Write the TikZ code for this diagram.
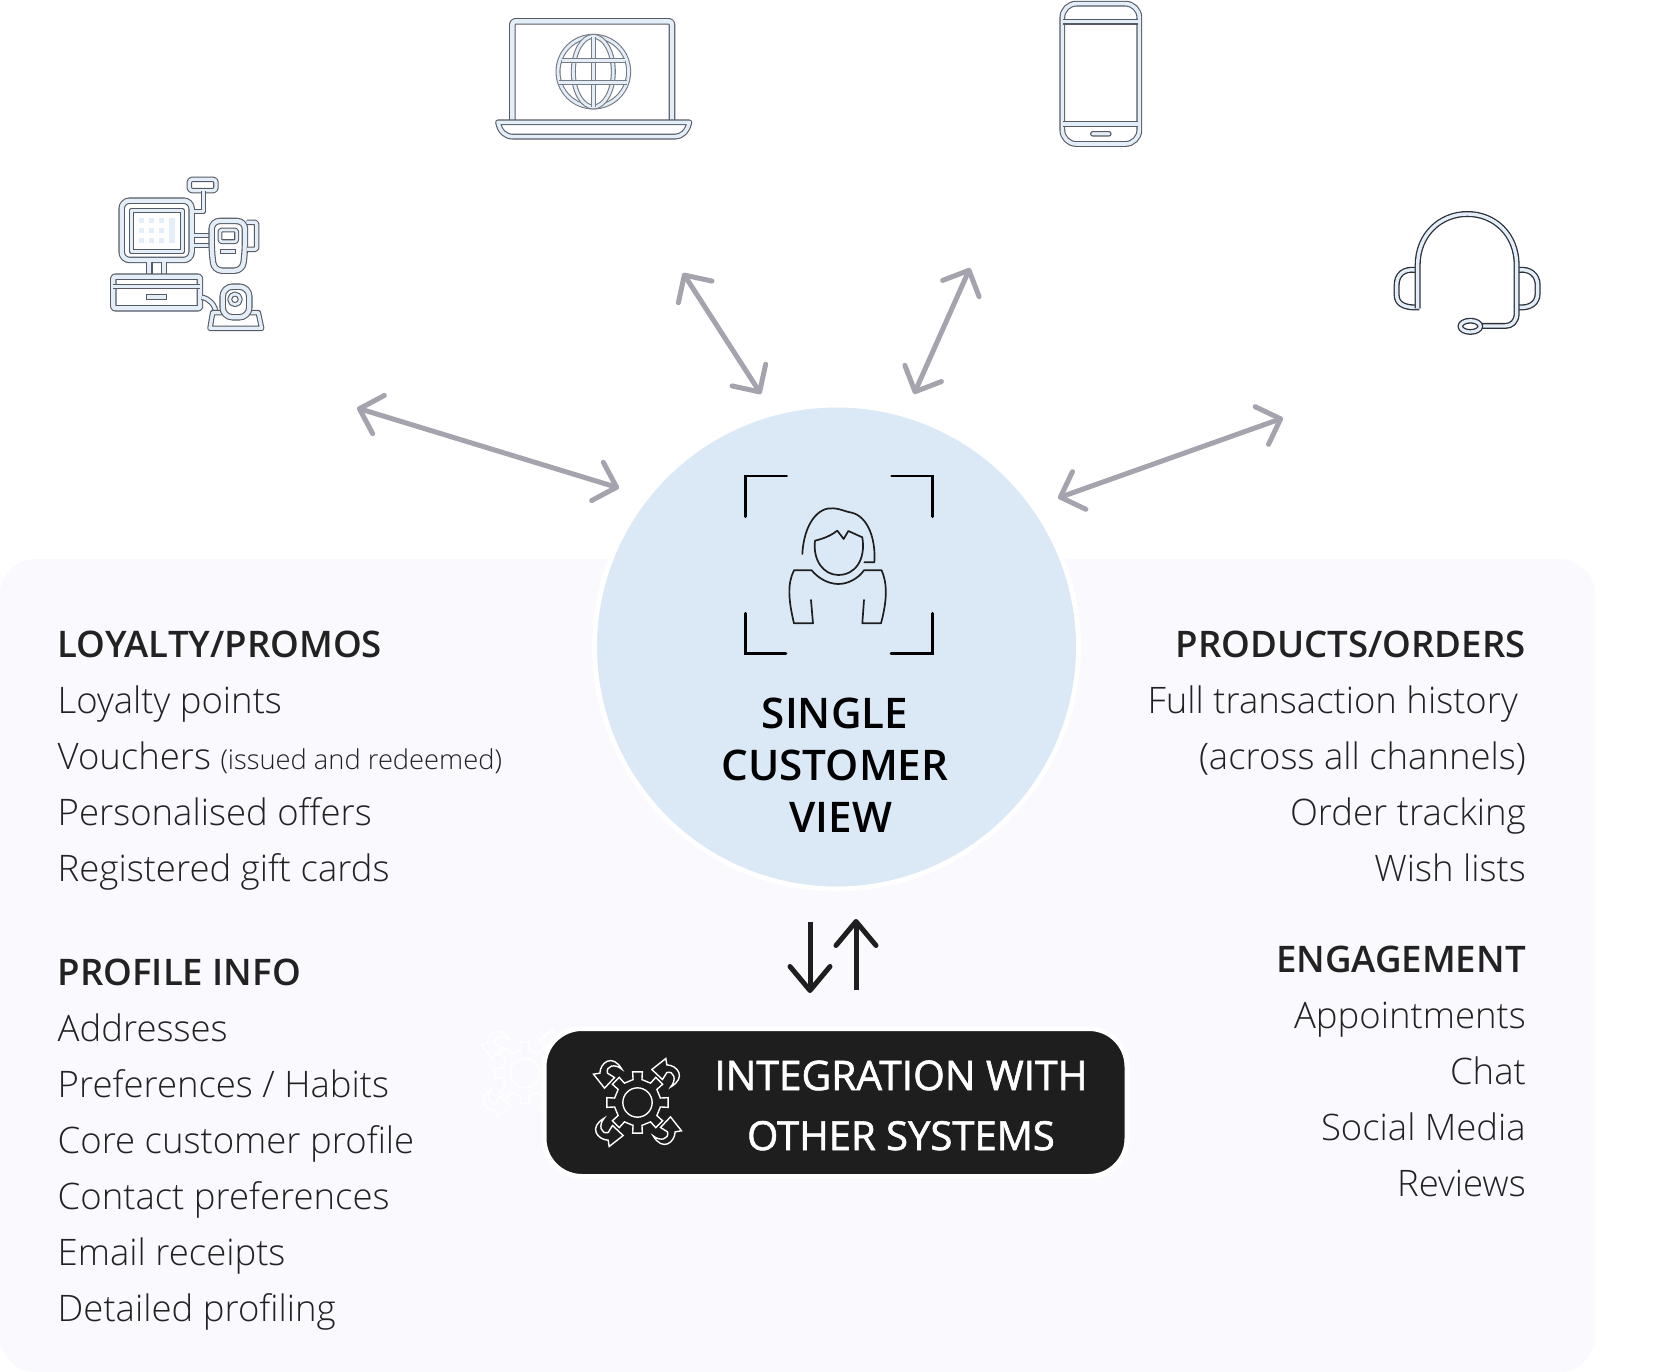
\documentclass[tikz,border=0pt]{standalone}
\usepackage{fontspec}
\setmainfont{Open Sans Light}[BoldFont={Open Sans Semibold}]
\newfontfamily\medfont{Open Sans}[FakeBold=1.5]
\usetikzlibrary{arrows.meta}
\definecolor{panelc}{HTML}{F9F9FE}
\definecolor{circc}{HTML}{DBE8F6}
\definecolor{darkc}{HTML}{1E1E1E}
\definecolor{arrowc}{HTML}{A5A4AE}
\definecolor{iconband}{HTML}{E4EEF8}
\definecolor{iconline}{HTML}{555A64}
\definecolor{iconsoft}{HTML}{767B85}
\definecolor{headsetline}{HTML}{2C323C}
\definecolor{textc}{HTML}{222222}
\tikzset{
  band/.style={draw=iconline,line width=1.1pt,double=iconband,double distance=#1,line join=round},
  band/.default=4.3pt,
  thinband/.style={draw=iconsoft,line width=1.1pt,double=iconband,double distance=2.8pt,line join=round},
  hband/.style={draw=headsetline,line width=1.3pt,double=iconband,double distance=#1,line join=round},
  person/.style={draw=darkc,line width=1.7pt,line join=round,line cap=round},
  bracket/.style={draw=black,line width=2.8pt,line join=miter,line cap=round},
  gearline/.style={draw=#1,line width=1.4pt,line join=miter},
  link/.style={draw=arrowc,line width=5pt,{Straight Barb[round,length=20pt,width=40pt]}-{Straight Barb[round,length=20pt,width=40pt]}},
  flow/.style={draw=darkc,line width=5pt,-{Straight Barb[round,length=24pt,width=40pt]}},
  item/.style={anchor=base west,font=\fontsize{36.5}{36.5}\selectfont,text=textc,inner sep=0pt},
  head/.style={item,font=\fontsize{36.6}{36.6}\selectfont\bfseries},
  ritem/.style={item,anchor=base east},
  rhead/.style={head,anchor=base east},
  title/.style={anchor=base,font=\fontsize{42.2}{42.2}\selectfont\bfseries,text=black,inner sep=0pt},
  boxt/.style={anchor=base,font=\fontsize{40.7}{40.7}\medfont,text=white,inner sep=0pt},
  zoomed/.style={x=0.3333pt,y=-0.3333pt},
}
\newcommand{\gearicon}[1]{%
  \draw[gearline=#1] (-11:70) \foreach \a in {0,45,...,315}{ -- ({\a-11}:70) -- ({\a-9}:93) -- ({\a+9}:93) -- ({\a+11}:70)} -- cycle;
  \draw[gearline=#1] (0,0) circle (44);
  \foreach \r in {0,-90,-180,-270}{
    \draw[gearline=#1,rotate=\r] (-99,-43) -- (-132,-85) -- (-113,-88) .. controls (-112,-120) and (-75,-148) .. (-47,-100) .. controls (-68,-118) and (-96,-110) .. (-90,-88) -- (-69,-75) -- cycle;
  }
}
\begin{document}
\begin{tikzpicture}[x=1pt,y=-1pt]
\useasboundingbox (0,0) rectangle (1654,1372);
\fill[white] (0,0) rectangle (1654,1372);
\fill[panelc,rounded corners=36pt] (0,559) rectangle (1595,1372);

% ghost gear behind the dark box
\begin{scope}[shift={(525,1073)},zoomed]
\gearicon{white}
\end{scope}

% central circle and box
\node[circle,fill=circc,draw=white,line width=5pt,minimum size=484pt,inner sep=0pt] (hub) at (836.5,647) {};
\node[rectangle,rounded corners=38pt,fill=darkc,draw=white,line width=5pt,minimum width=583pt,minimum height=148pt,inner sep=0pt] (intbox) at (835.5,1102.5) {};

% person icon
\begin{scope}[shift={(730,460)},zoomed]
\draw[bracket] (47,170) -- (47,48) -- (170,48);
\draw[bracket] (485,48) -- (607,48) -- (607,170);
\draw[bracket] (47,460) -- (47,580) -- (168,580);
\draw[bracket] (483,580) -- (607,580) -- (607,460);
\draw[person] (217,282) .. controls (222,190) and (265,140) .. (310,145) .. controls (335,147) and (345,155) .. (365,158) .. controls (415,170) and (438,240) .. (433,307) -- (403,307);
\draw[person] (255,242) .. controls (248,300) and (280,345) .. (325,345) .. controls (375,345) and (408,300) .. (397,232) -- (355,213) -- (341,237) -- (322,212) .. controls (305,225) and (285,235) .. (255,242);
\draw[person] (243,420) -- (249,490) -- (192,490) .. controls (175,420) and (172,370) .. (192,331) -- (245,331) .. controls (265,355) and (295,372) .. (325,372) .. controls (355,372) and (385,355) .. (402,331) -- (455,331) .. controls (472,370) and (472,420) .. (453,490) -- (397,490) -- (402,420);
\end{scope}

% POS icon
\begin{scope}[shift={(90,160)},zoomed]
\foreach \x in {155,185,215}\foreach \y in {182,212,242}{\fill[iconband] (\x-7,\y-7) rectangle (\x+7,\y+7);}
\fill[iconband] (238,175) rectangle (255,250);
\draw[band,rounded corners=8pt] (95,122) -- (305,122) -- (305,300) -- (95,300) -- cycle;
\draw[band=3.3pt] (124,152) rectangle (277,275);
\draw[band] (178,305) -- (178,345);
\draw[band] (222,305) -- (222,345);
\draw[band,rounded corners=2pt] (70,350) rectangle (330,445);
\draw[band=3.3pt] (70,380) -- (330,380);
\draw[draw=iconline,line width=1.1pt,fill=iconband] (170,404) rectangle (230,418);
\draw[band=3.3pt,rounded corners=3pt] (298,58) rectangle (378,92);
\draw[band=3.3pt] (340,92) -- (340,155) -- (312,155);
\draw[band=3.3pt] (312,226) -- (360,226);
\draw[band=3.3pt] (312,256) -- (360,256);
\draw[band,rounded corners=8pt] (365,183) -- (465,183) -- (465,270) -- (458,332) -- (372,332) -- (365,270) -- cycle;
\draw[band=2.7pt,rounded corners=2pt] (390,210) rectangle (440,245);
\draw[draw=iconline,line width=1.1pt,fill=iconband] (392,268) rectangle (437,280);
\draw[band=3.3pt,rounded corners=2pt] (470,187) -- (500,187) -- (500,268) -- (470,268);
\draw[band=3.3pt] (335,412) .. controls (358,415) and (375,435) .. (378,458);
\draw[band=3.3pt,line join=round] (398,458) -- (368,458) -- (360,505) -- (515,505) -- (505,458) -- (478,458);
\draw[band,rounded corners=10pt] (398,472) -- (398,380) -- (478,380) -- (478,472) -- cycle;
\draw[band=2.7pt] (435,418) circle (16);
\end{scope}

% laptop icon
\begin{scope}[shift={(480,0)},zoomed]
\draw[band=4.4pt,rounded corners=3pt] (97,360) -- (97,64) -- (576,64) -- (576,360);
\draw[band=3.6pt] (54,367) -- (628,367) .. controls (622,395) and (605,410) .. (585,410) -- (100,410) .. controls (75,410) and (60,395) .. (54,367) -- cycle;
\draw[thinband] (340,215) circle (106);
\draw[thinband] (340,215) ellipse (60 and 106);
\draw[thinband] (340,110) -- (340,320);
\draw[thinband] (245,182) -- (435,182);
\draw[thinband] (238,248) -- (442,248);
\end{scope}

% phone icon
\begin{scope}[shift={(1040,0)},zoomed]
\draw[band=3.6pt,rounded corners=14pt] (67,11) rectangle (298,432);
\draw[band=3.6pt] (70,65) -- (295,65);
\draw[band=3.6pt] (70,372) -- (295,372);
\draw[draw=iconline,line width=1.1pt,fill=iconband,rounded corners=2pt] (152,395) rectangle (213,408);
\end{scope}

% headset icon
\begin{scope}[shift={(1380,200)},zoomed]
\draw[hband=3.4pt] (107,210) .. controls (70,205) and (50,225) .. (50,255) -- (50,285) .. controls (50,310) and (70,325) .. (118,322);
\draw[hband=3.4pt] (415,210) .. controls (450,205) and (473,225) .. (473,255) -- (473,280) .. controls (473,310) and (450,325) .. (415,322);
\draw[hband=3.4pt] (113,325) -- (113,195) .. controls (113,105) and (180,42) .. (262,42) .. controls (345,42) and (410,105) .. (410,195) -- (410,340) .. controls (410,365) and (395,378) .. (375,378) -- (305,378);
\draw[hband=3.2pt] (271,379) ellipse (30 and 17);
\end{scope}

% connector end points
\coordinate (pos) at (357,408);
\coordinate (hubw) at (619,488);
\coordinate (web) at (683,273);
\coordinate (hubn) at (761,394);
\coordinate (mob) at (970,268);
\coordinate (hubne) at (914,394);
\coordinate (call) at (1283,418);
\coordinate (hube) at (1058,498);
\coordinate (hubdn) at (810,922);
\coordinate (boxdn) at (810,993);
\coordinate (boxup) at (856,990);
\coordinate (hubup) at (856,919);
\draw[link] (pos) -- (hubw);
\draw[link] (web) -- (hubn);
\draw[link] (mob) -- (hubne);
\draw[link] (call) -- (hube);
\draw[flow] (hubdn) -- (boxdn);
\draw[flow] (boxup) -- (hubup);

% gear in box
\begin{scope}[shift={(637.5,1102.5)},zoomed]
\gearicon{white}
\end{scope}

% titles
\node[title] (t1) at (835,728) {SINGLE};
\node[title] (t2) at (835,780) {CUSTOMER};
\node[title] (t3) at (841,832) {VIEW};
\node[boxt] (b1) at (901,1090) {INTEGRATION WITH};
\node[boxt,font=\fontsize{40}{40}\medfont] (b2) at (901,1150) {OTHER SYSTEMS};

% left lists
\node[head] (l1) at (57.5,657) {LOYALTY/PROMOS};
\node[item] (l2) at (57.5,713) {Loyalty points};
\node[item] (l3) at (57.5,769) {Vouchers {\fontsize{27.3}{27.3}\selectfont (issued and redeemed)}};
\node[item] (l4) at (57.5,825) {Personalised offers};
\node[item] (l5) at (57.5,881) {Registered gift cards};
\node[head] (p1) at (57.5,985) {PROFILE INFO};
\node[item] (p2) at (57.5,1041) {Addresses};
\node[item] (p3) at (57.5,1097) {Preferences / Habits};
\node[item] (p4) at (57.5,1153) {Core customer profile};
\node[item] (p5) at (57.5,1209) {Contact preferences};
\node[item] (p6) at (57.5,1265) {Email receipts};
\node[item] (p7) at (57.5,1321) {Detailed profiling};

% right lists
\node[rhead] (r1) at (1526,657) {PRODUCTS/ORDERS};
\node[ritem] (r2) at (1518,713) {Full transaction history};
\node[ritem] (r3) at (1526,769) {(across all channels)};
\node[ritem] (r4) at (1526,825) {Order tracking};
\node[ritem] (r5) at (1526,881) {Wish lists};
\node[rhead] (e1) at (1526,972) {ENGAGEMENT};
\node[ritem] (e2) at (1526,1028) {Appointments};
\node[ritem] (e3) at (1526,1084) {Chat};
\node[ritem] (e4) at (1526,1140) {Social Media};
\node[ritem] (e5) at (1526,1196) {Reviews};
\end{tikzpicture}
\end{document}
